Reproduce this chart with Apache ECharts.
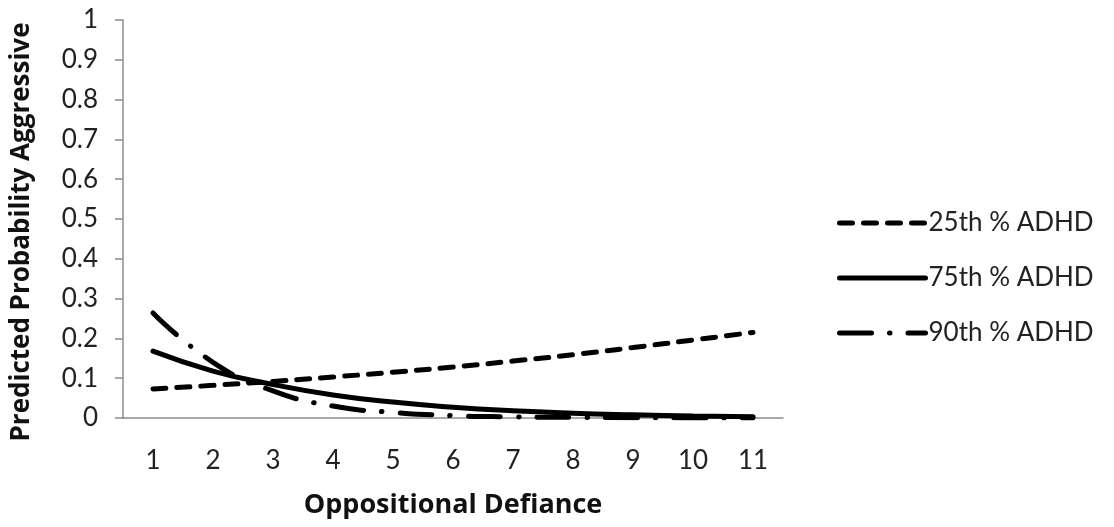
<!DOCTYPE html>
<html>
<head>
<meta charset="utf-8">
<script src="https://cdn.jsdelivr.net/npm/echarts@6/dist/echarts.min.js"></script>
<style>html,body{margin:0;padding:0;background:#fff;}#c{width:1114px;height:527px;}</style>
</head>
<body>
<div id="c"></div>
<script>
const categories = ['1','2','3','4','5','6','7','8','9','10','11'];
const adhd25 = [0.073, 0.082, 0.092, 0.103, 0.115, 0.128, 0.143, 0.159, 0.177, 0.196, 0.215];
const adhd75 = [0.168, 0.118, 0.084, 0.058, 0.040, 0.027, 0.018, 0.012, 0.008, 0.005, 0.003];
const adhd90 = [0.264, 0.140, 0.068, 0.030, 0.014, 0.006, 0.003, 0.0015, 0.0007, 0.0003, 0.0001];
const seriesNames = ['25th % ADHD', '75th % ADHD', '90th % ADHD'];

const font = 'Lato, "Open Sans", sans-serif';
const titleFont = '"Open Sans", Lato, sans-serif';
const chart = echarts.init(document.getElementById('c'), null, {renderer: 'canvas'});
function mk(name, data, dash) {
  return {
    name: name, type: 'line', data: data, smooth: true,
    symbol: 'circle', showSymbol: false,
    lineStyle: {color: '#000', width: 5, type: dash, cap: 'round'},
    itemStyle: {color: '#000'}
  };
}
chart.setOption({
  animation: false,
  backgroundColor: '#fff',
  grid: {left: 123, top: 20, right: 331, bottom: 109, containLabel: false},
  legend: {
    orient: 'vertical', left: 832, top: 205,
    itemWidth: 86, itemHeight: 26, itemGap: 29,
    itemStyle: {opacity: 0},
    lineStyle: {width: 5, cap: 'round'},
    textStyle: {fontFamily: font, fontSize: 26, color: '#222', padding: [0, 0, 0, -2]},
    data: seriesNames
  },
  xAxis: {
    type: 'category', data: categories, boundaryGap: true,
    name: 'Oppositional Defiance', nameLocation: 'middle', nameGap: 74,
    nameTextStyle: {fontFamily: titleFont, fontSize: 27, fontWeight: 'bold', color: '#111'},
    axisLine: {lineStyle: {color: '#8c8c8c', width: 1.5}},
    axisTick: {show: false},
    axisLabel: {fontFamily: font, fontSize: 26, color: '#222', margin: 30},
    splitLine: {show: false}
  },
  yAxis: {
    type: 'value', min: 0, max: 1, interval: 0.1,
    name: 'Predicted Probability Aggressive', nameLocation: 'middle', nameGap: 88, nameRotate: 90,
    nameTextStyle: {fontFamily: titleFont, fontSize: 26, fontWeight: 'bold', color: '#111', padding: [0, 26, 0, 0]},
    axisLine: {show: true, lineStyle: {color: '#8c8c8c', width: 1.5}},
    axisTick: {show: true, length: 8, inside: false, lineStyle: {color: '#8c8c8c', width: 1.5}},
    axisLabel: {fontFamily: font, fontSize: 26, color: '#222', margin: 25,
      formatter: function(v){ return String(Math.round(v*10)/10); }},
    splitLine: {show: false}
  },
  series: [
    mk(seriesNames[0], adhd25, [13, 11]),
    mk(seriesNames[1], adhd75, 'solid'),
    mk(seriesNames[2], adhd90, [32, 18, 0.5, 18])
  ]
});
</script>
</body>
</html>
